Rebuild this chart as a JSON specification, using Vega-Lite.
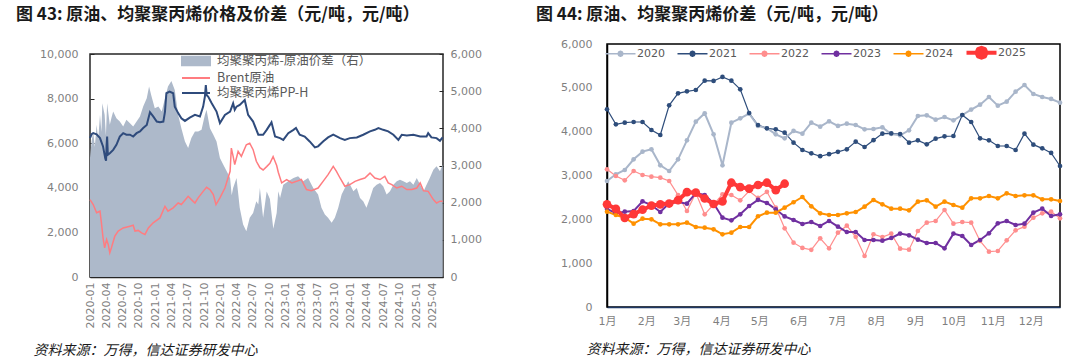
{
"$schema": "https://vega.github.io/schema/vega-lite/v6.json",
"background": "white",
"padding": {"left": 16, "top": 5, "right": 0, "bottom": 0},
"spacing": 52,
"config": {
  "font": "DejaVu Sans, Noto Sans CJK SC",
  "axis": {"labelFont": "DejaVu Sans, Noto Sans CJK SC", "labelFontSize": 11, "labelColor": "#7f7f7f", "grid": false, "ticks": false, "domain": false},
  "legend": {"labelFont": "DejaVu Sans, Noto Sans CJK SC", "labelColor": "#595959"}
},
"resolve": {"scale": {"color": "independent"}, "legend": {"color": "independent"}},
"datasets": {
  "spread": [
    {"d":"2020-01-01","v":3200},{"d":"2020-01-10","v":3650},{"d":"2020-01-19","v":3916},{"d":"2020-01-28","v":3500},{"d":"2020-02-07","v":4094},{"d":"2020-02-16","v":3700},{"d":"2020-02-26","v":4363},{"d":"2020-03-05","v":3900},{"d":"2020-03-10","v":4676},{"d":"2020-03-23","v":4363},{"d":"2020-03-30","v":3800},{"d":"2020-04-06","v":4676},{"d":"2020-04-21","v":4094},{"d":"2020-05-01","v":4300},{"d":"2020-05-10","v":4452},{"d":"2020-05-28","v":4273},{"d":"2020-06-16","v":4184},{"d":"2020-07-05","v":4050},{"d":"2020-07-23","v":4229},{"d":"2020-08-12","v":4139},{"d":"2020-08-30","v":4050},{"d":"2020-09-18","v":4184},{"d":"2020-10-07","v":4318},{"d":"2020-10-25","v":4586},{"d":"2020-11-14","v":4810},{"d":"2020-11-27","v":5123},{"d":"2020-12-11","v":4854},{"d":"2020-12-29","v":4542},
    {"d":"2021-01-18","v":4586},{"d":"2021-02-06","v":4452},{"d":"2021-02-24","v":4810},{"d":"2021-03-13","v":5123},{"d":"2021-04-01","v":5275},{"d":"2021-04-20","v":5033},{"d":"2021-05-09","v":4363},{"d":"2021-05-27","v":4005},{"d":"2021-06-16","v":3648},{"d":"2021-07-04","v":3469},{"d":"2021-07-22","v":3737},{"d":"2021-08-11","v":3916},{"d":"2021-08-29","v":3916},{"d":"2021-09-17","v":3960},{"d":"2021-10-06","v":4363},{"d":"2021-10-15","v":4497},{"d":"2021-11-03","v":4005},{"d":"2021-11-22","v":3826},{"d":"2021-12-10","v":3648},{"d":"2021-12-29","v":3200},
    {"d":"2022-01-17","v":3022},{"d":"2022-02-05","v":2843},{"d":"2022-02-24","v":2664},{"d":"2022-03-05","v":2200},{"d":"2022-03-13","v":2396},{"d":"2022-04-01","v":2664},{"d":"2022-04-19","v":1860},{"d":"2022-05-08","v":1413},{"d":"2022-05-26","v":1234},{"d":"2022-06-14","v":1591},{"d":"2022-07-03","v":1725},{"d":"2022-07-21","v":2038},{"d":"2022-08-01","v":1949},{"d":"2022-08-10","v":2396},{"d":"2022-08-28","v":1591},{"d":"2022-09-17","v":2300},{"d":"2022-10-05","v":2100},{"d":"2022-10-24","v":1300},{"d":"2022-11-12","v":1720},{"d":"2022-11-21","v":2307},{"d":"2022-12-01","v":2128},{"d":"2022-12-19","v":2485},
    {"d":"2023-01-16","v":2575},{"d":"2023-02-14","v":2664},{"d":"2023-03-12","v":2709},{"d":"2023-04-09","v":2575},{"d":"2023-05-07","v":2664},{"d":"2023-06-05","v":2396},{"d":"2023-07-02","v":2217},{"d":"2023-07-21","v":1860},{"d":"2023-08-09","v":1681},{"d":"2023-08-27","v":1591},{"d":"2023-09-16","v":1457},{"d":"2023-10-04","v":1591},{"d":"2023-10-23","v":1860},{"d":"2023-11-11","v":2217},{"d":"2023-11-29","v":2396},{"d":"2023-12-18","v":2575},
    {"d":"2024-01-16","v":2307},{"d":"2024-02-04","v":2396},{"d":"2024-02-22","v":2128},{"d":"2024-03-11","v":2038},{"d":"2024-03-29","v":1860},{"d":"2024-04-18","v":2128},{"d":"2024-05-06","v":2396},{"d":"2024-05-25","v":2485},{"d":"2024-06-13","v":2530},{"d":"2024-07-01","v":2441},{"d":"2024-07-20","v":2217},{"d":"2024-08-08","v":2307},{"d":"2024-08-27","v":2485},{"d":"2024-09-15","v":2575},{"d":"2024-10-03","v":2619},{"d":"2024-10-22","v":2575},{"d":"2024-11-10","v":2530},{"d":"2024-11-28","v":2575},{"d":"2024-12-17","v":2485},
    {"d":"2025-01-05","v":2664},{"d":"2025-01-24","v":2485},{"d":"2025-02-12","v":2307},{"d":"2025-03-01","v":2485},{"d":"2025-03-19","v":2664},{"d":"2025-04-08","v":2888},{"d":"2025-04-26","v":2977},{"d":"2025-05-15","v":2843},{"d":"2025-05-30","v":3022}
  ],
  "brent": [
    {"d":"2020-01-01","v":3470},{"d":"2020-01-19","v":3250},{"d":"2020-02-07","v":2880},{"d":"2020-02-26","v":2950},{"d":"2020-03-05","v":2430},{"d":"2020-03-14","v":1760},{"d":"2020-03-23","v":1310},{"d":"2020-04-03","v":1680},{"d":"2020-04-12","v":1460},{"d":"2020-04-21","v":1090},{"d":"2020-04-30","v":1310},{"d":"2020-05-19","v":1830},{"d":"2020-06-07","v":2060},{"d":"2020-07-05","v":2200},{"d":"2020-08-12","v":2280},{"d":"2020-08-30","v":2320},{"d":"2020-09-09","v":2060},{"d":"2020-09-27","v":2090},{"d":"2020-10-16","v":1980},{"d":"2020-11-04","v":1910},{"d":"2020-11-23","v":2200},{"d":"2020-12-20","v":2430},
    {"d":"2021-01-27","v":2650},{"d":"2021-02-24","v":3170},{"d":"2021-03-13","v":2950},{"d":"2021-04-11","v":3100},{"d":"2021-05-09","v":3320},{"d":"2021-05-27","v":3250},{"d":"2021-07-04","v":3620},{"d":"2021-07-22","v":3470},{"d":"2021-08-11","v":3320},{"d":"2021-08-29","v":3550},{"d":"2021-09-26","v":3840},{"d":"2021-10-15","v":4020},{"d":"2021-11-03","v":3920},{"d":"2021-11-22","v":3700},{"d":"2021-12-07","v":3250},{"d":"2021-12-29","v":3550},
    {"d":"2022-01-26","v":3990},{"d":"2022-02-24","v":4740},{"d":"2022-03-03","v":5780},{"d":"2022-03-13","v":5410},{"d":"2022-03-22","v":5040},{"d":"2022-04-10","v":5630},{"d":"2022-04-28","v":5410},{"d":"2022-05-26","v":5930},{"d":"2022-06-14","v":6000},{"d":"2022-07-03","v":5710},{"d":"2022-07-21","v":5190},{"d":"2022-08-10","v":4900},{"d":"2022-08-28","v":4800},{"d":"2022-09-17","v":4950},{"d":"2022-10-05","v":5100},{"d":"2022-10-23","v":5400},{"d":"2022-11-12","v":5000},{"d":"2022-11-21","v":4700},{"d":"2022-12-10","v":4220},
    {"d":"2023-01-07","v":4370},{"d":"2023-02-05","v":4220},{"d":"2023-03-03","v":4290},{"d":"2023-03-30","v":4370},{"d":"2023-04-28","v":3920},{"d":"2023-05-25","v":3870},{"d":"2023-07-02","v":3990},{"d":"2023-07-30","v":4290},{"d":"2023-08-27","v":4590},{"d":"2023-09-25","v":4960},{"d":"2023-10-13","v":4740},{"d":"2023-11-02","v":4440},{"d":"2023-11-29","v":4070},{"d":"2023-12-27","v":4140},
    {"d":"2024-01-25","v":4290},{"d":"2024-02-22","v":4370},{"d":"2024-03-20","v":4440},{"d":"2024-04-18","v":4660},{"d":"2024-05-15","v":4440},{"d":"2024-06-13","v":4370},{"d":"2024-07-10","v":4510},{"d":"2024-07-29","v":4220},{"d":"2024-08-18","v":4140},{"d":"2024-09-15","v":3990},{"d":"2024-10-13","v":4070},{"d":"2024-11-10","v":3920},{"d":"2024-12-08","v":3920},
    {"d":"2025-01-05","v":3990},{"d":"2025-01-24","v":4220},{"d":"2025-02-12","v":3870},{"d":"2025-03-10","v":3840},{"d":"2025-04-08","v":3470},{"d":"2025-04-26","v":3320},{"d":"2025-05-15","v":3400},{"d":"2025-05-30","v":3400}
  ],
  "pp": [
    {"d":"2020-01-01","v":6228},{"d":"2020-01-10","v":6400},{"d":"2020-01-19","v":6450},{"d":"2020-02-07","v":6400},{"d":"2020-02-26","v":6228},{"d":"2020-03-14","v":5856},{"d":"2020-03-27","v":5300},{"d":"2020-03-31","v":5215},{"d":"2020-04-03","v":5900},{"d":"2020-04-06","v":6300},{"d":"2020-04-10","v":5480},{"d":"2020-04-21","v":5550},{"d":"2020-05-10","v":5700},{"d":"2020-05-28","v":5930},{"d":"2020-06-16","v":6300},{"d":"2020-07-05","v":6450},{"d":"2020-07-23","v":6380},{"d":"2020-08-12","v":6380},{"d":"2020-08-30","v":6300},{"d":"2020-09-18","v":6450},{"d":"2020-10-07","v":6530},{"d":"2020-10-25","v":6680},{"d":"2020-11-14","v":6820},{"d":"2020-12-02","v":7390},{"d":"2020-12-20","v":7200},
    {"d":"2021-01-09","v":6970},{"d":"2021-01-27","v":6940},{"d":"2021-02-15","v":6970},{"d":"2021-02-24","v":7400},{"d":"2021-03-04","v":8240},{"d":"2021-03-22","v":8310},{"d":"2021-04-11","v":8240},{"d":"2021-04-20","v":7640},{"d":"2021-05-09","v":7350},{"d":"2021-05-27","v":7120},{"d":"2021-06-16","v":7000},{"d":"2021-07-13","v":7150},{"d":"2021-08-11","v":7270},{"d":"2021-09-08","v":7200},{"d":"2021-09-26","v":7640},{"d":"2021-10-06","v":8100},{"d":"2021-10-11","v":8610},{"d":"2021-10-16","v":8150},{"d":"2021-10-24","v":8090},{"d":"2021-11-13","v":7790},{"d":"2021-12-10","v":7420},{"d":"2021-12-29","v":6900},
    {"d":"2022-01-26","v":7270},{"d":"2022-02-24","v":7420},{"d":"2022-03-13","v":7790},{"d":"2022-03-22","v":7500},{"d":"2022-04-01","v":7640},{"d":"2022-04-19","v":7720},{"d":"2022-05-17","v":7940},{"d":"2022-06-05","v":7270},{"d":"2022-07-03","v":6970},{"d":"2022-08-01","v":6380},{"d":"2022-08-28","v":6380},{"d":"2022-09-17","v":6600},{"d":"2022-10-05","v":6820},{"d":"2022-10-14","v":6940},{"d":"2022-11-03","v":6300},{"d":"2022-12-01","v":6228},{"d":"2022-12-19","v":6150},
    {"d":"2023-01-16","v":6450},{"d":"2023-02-14","v":6600},{"d":"2023-02-28","v":6680},{"d":"2023-03-21","v":6380},{"d":"2023-04-18","v":6300},{"d":"2023-05-16","v":6080},{"d":"2023-06-14","v":5810},{"d":"2023-07-02","v":5860},{"d":"2023-07-30","v":6080},{"d":"2023-08-27","v":6260},{"d":"2023-09-25","v":6380},{"d":"2023-11-02","v":6228},{"d":"2023-11-29","v":6150},{"d":"2023-12-27","v":6228},
    {"d":"2024-02-04","v":6260},{"d":"2024-03-11","v":6380},{"d":"2024-04-18","v":6530},{"d":"2024-05-15","v":6600},{"d":"2024-06-04","v":6680},{"d":"2024-07-01","v":6600},{"d":"2024-07-29","v":6530},{"d":"2024-08-27","v":6380},{"d":"2024-09-24","v":6150},{"d":"2024-10-13","v":6380},{"d":"2024-11-10","v":6350},{"d":"2024-12-17","v":6380},
    {"d":"2025-01-24","v":6300},{"d":"2025-03-01","v":6300},{"d":"2025-03-10","v":6450},{"d":"2025-03-28","v":6260},{"d":"2025-04-26","v":6228},{"d":"2025-05-15","v":6110},{"d":"2025-05-30","v":6260}
  ],
  "weekly": [
    {"yr":"2020","w":1,"v":2875},{"yr":"2020","w":2,"v":3027},{"yr":"2020","w":3,"v":3126},{"yr":"2020","w":4,"v":3369},{"yr":"2020","w":5,"v":3544},{"yr":"2020","w":6,"v":3598},{"yr":"2020","w":7,"v":3233},{"yr":"2020","w":8,"v":3103},{"yr":"2020","w":9,"v":3369},{"yr":"2020","w":10,"v":3802},{"yr":"2020","w":11,"v":4228},{"yr":"2020","w":12,"v":4419},{"yr":"2020","w":13,"v":3940},{"yr":"2020","w":14,"v":3233},{"yr":"2020","w":15,"v":4205},{"yr":"2020","w":16,"v":4305},{"yr":"2020","w":17,"v":4411},{"yr":"2020","w":18,"v":4130},{"yr":"2020","w":19,"v":4077},{"yr":"2020","w":20,"v":3940},{"yr":"2020","w":21,"v":3848},{"yr":"2020","w":22,"v":4016},{"yr":"2020","w":23,"v":3955},{"yr":"2020","w":24,"v":4205},{"yr":"2020","w":25,"v":4115},{"yr":"2020","w":26,"v":4236},{"yr":"2020","w":27,"v":4130},{"yr":"2020","w":28,"v":4183},{"yr":"2020","w":29,"v":4152},{"yr":"2020","w":30,"v":4054},{"yr":"2020","w":31,"v":4061},{"yr":"2020","w":32,"v":4099},{"yr":"2020","w":33,"v":3947},{"yr":"2020","w":34,"v":3917},{"yr":"2020","w":35,"v":4031},{"yr":"2020","w":36,"v":4358},{"yr":"2020","w":37,"v":4373},{"yr":"2020","w":38,"v":4274},{"yr":"2020","w":39,"v":4335},{"yr":"2020","w":40,"v":4259},{"yr":"2020","w":41,"v":4380},{"yr":"2020","w":42,"v":4503},{"yr":"2020","w":43,"v":4616},{"yr":"2020","w":44,"v":4791},{"yr":"2020","w":45,"v":4593},{"yr":"2020","w":46,"v":4685},{"yr":"2020","w":47,"v":4913},{"yr":"2020","w":48,"v":5065},{"yr":"2020","w":49,"v":4860},{"yr":"2020","w":50,"v":4791},{"yr":"2020","w":51,"v":4746},{"yr":"2020","w":52,"v":4661},
    {"yr":"2021","w":1,"v":4511},{"yr":"2021","w":2,"v":4168},{"yr":"2021","w":3,"v":4205},{"yr":"2021","w":4,"v":4221},{"yr":"2021","w":5,"v":4221},{"yr":"2021","w":6,"v":4038},{"yr":"2021","w":7,"v":3924},{"yr":"2021","w":8,"v":4601},{"yr":"2021","w":9,"v":4875},{"yr":"2021","w":10,"v":4920},{"yr":"2021","w":11,"v":4951},{"yr":"2021","w":12,"v":5164},{"yr":"2021","w":13,"v":5157},{"yr":"2021","w":14,"v":5248},{"yr":"2021","w":15,"v":5164},{"yr":"2021","w":16,"v":4966},{"yr":"2021","w":17,"v":4426},{"yr":"2021","w":18,"v":4152},{"yr":"2021","w":19,"v":4077},{"yr":"2021","w":20,"v":4054},{"yr":"2021","w":21,"v":3977},{"yr":"2021","w":22,"v":3749},{"yr":"2021","w":23,"v":3582},{"yr":"2021","w":24,"v":3506},{"yr":"2021","w":25,"v":3440},{"yr":"2021","w":26,"v":3487},{"yr":"2021","w":27,"v":3540},{"yr":"2021","w":28,"v":3598},{"yr":"2021","w":29,"v":3772},{"yr":"2021","w":30,"v":3650},{"yr":"2021","w":31,"v":3806},{"yr":"2021","w":32,"v":3955},{"yr":"2021","w":33,"v":3962},{"yr":"2021","w":34,"v":3947},{"yr":"2021","w":35,"v":3749},{"yr":"2021","w":36,"v":3802},{"yr":"2021","w":37,"v":3711},{"yr":"2021","w":38,"v":3840},{"yr":"2021","w":39,"v":3894},{"yr":"2021","w":40,"v":3901},{"yr":"2021","w":41,"v":4380},{"yr":"2021","w":42,"v":4221},{"yr":"2021","w":43,"v":3848},{"yr":"2021","w":44,"v":3802},{"yr":"2021","w":45,"v":3673},{"yr":"2021","w":46,"v":3673},{"yr":"2021","w":47,"v":3582},{"yr":"2021","w":48,"v":3955},{"yr":"2021","w":49,"v":3704},{"yr":"2021","w":50,"v":3620},{"yr":"2021","w":51,"v":3514},{"yr":"2021","w":52,"v":3217},
    {"yr":"2022","w":1,"v":3141},{"yr":"2022","w":2,"v":2989},{"yr":"2022","w":3,"v":2890},{"yr":"2022","w":4,"v":3103},{"yr":"2022","w":5,"v":3012},{"yr":"2022","w":6,"v":2974},{"yr":"2022","w":7,"v":2951},{"yr":"2022","w":8,"v":2875},{"yr":"2022","w":9,"v":2552},{"yr":"2022","w":10,"v":2190},{"yr":"2022","w":11,"v":2600},{"yr":"2022","w":12,"v":2114},{"yr":"2022","w":13,"v":2342},{"yr":"2022","w":14,"v":2571},{"yr":"2022","w":15,"v":2555},{"yr":"2022","w":16,"v":2434},{"yr":"2022","w":17,"v":2647},{"yr":"2022","w":18,"v":2488},{"yr":"2022","w":19,"v":2628},{"yr":"2022","w":20,"v":2266},{"yr":"2022","w":21,"v":1795},{"yr":"2022","w":22,"v":1468},{"yr":"2022","w":23,"v":1347},{"yr":"2022","w":24,"v":1304},{"yr":"2022","w":25,"v":1567},{"yr":"2022","w":26,"v":1339},{"yr":"2022","w":27,"v":1696},{"yr":"2022","w":28,"v":1855},{"yr":"2022","w":29,"v":1600},{"yr":"2022","w":30,"v":1164},{"yr":"2022","w":31,"v":1660},{"yr":"2022","w":32,"v":1597},{"yr":"2022","w":33,"v":1674},{"yr":"2022","w":34,"v":1331},{"yr":"2022","w":35,"v":1308},{"yr":"2022","w":36,"v":1734},{"yr":"2022","w":37,"v":1924},{"yr":"2022","w":38,"v":1962},{"yr":"2022","w":39,"v":2213},{"yr":"2022","w":40,"v":1901},{"yr":"2022","w":41,"v":1939},{"yr":"2022","w":42,"v":1924},{"yr":"2022","w":43,"v":1506},{"yr":"2022","w":44,"v":1263},{"yr":"2022","w":45,"v":1278},{"yr":"2022","w":46,"v":1521},{"yr":"2022","w":47,"v":1749},{"yr":"2022","w":48,"v":1833},{"yr":"2022","w":49,"v":2038},{"yr":"2022","w":50,"v":2137},{"yr":"2022","w":51,"v":2175},{"yr":"2022","w":52,"v":2023},
    {"yr":"2023","w":1,"v":2237},{"yr":"2023","w":2,"v":2137},{"yr":"2023","w":3,"v":2175},{"yr":"2023","w":4,"v":2190},{"yr":"2023","w":5,"v":2410},{"yr":"2023","w":6,"v":2327},{"yr":"2023","w":7,"v":2167},{"yr":"2023","w":8,"v":2366},{"yr":"2023","w":9,"v":2396},{"yr":"2023","w":10,"v":2358},{"yr":"2023","w":11,"v":2600},{"yr":"2023","w":12,"v":2555},{"yr":"2023","w":13,"v":2366},{"yr":"2023","w":14,"v":2038},{"yr":"2023","w":15,"v":1977},{"yr":"2023","w":16,"v":2114},{"yr":"2023","w":17,"v":2304},{"yr":"2023","w":18,"v":2445},{"yr":"2023","w":19,"v":2373},{"yr":"2023","w":20,"v":2229},{"yr":"2023","w":21,"v":2066},{"yr":"2023","w":22,"v":1985},{"yr":"2023","w":23,"v":1893},{"yr":"2023","w":24,"v":1939},{"yr":"2023","w":25,"v":1848},{"yr":"2023","w":26,"v":1962},{"yr":"2023","w":27,"v":1833},{"yr":"2023","w":28,"v":1711},{"yr":"2023","w":29,"v":1711},{"yr":"2023","w":30,"v":1529},{"yr":"2023","w":31,"v":1529},{"yr":"2023","w":32,"v":1513},{"yr":"2023","w":33,"v":1574},{"yr":"2023","w":34,"v":1674},{"yr":"2023","w":35,"v":1636},{"yr":"2023","w":36,"v":1536},{"yr":"2023","w":37,"v":1460},{"yr":"2023","w":38,"v":1460},{"yr":"2023","w":39,"v":1339},{"yr":"2023","w":40,"v":1674},{"yr":"2023","w":41,"v":1620},{"yr":"2023","w":42,"v":1415},{"yr":"2023","w":43,"v":1529},{"yr":"2023","w":44,"v":1681},{"yr":"2023","w":45,"v":1909},{"yr":"2023","w":46,"v":1962},{"yr":"2023","w":47,"v":1871},{"yr":"2023","w":48,"v":1901},{"yr":"2023","w":49,"v":2152},{"yr":"2023","w":50,"v":2244},{"yr":"2023","w":51,"v":2076},{"yr":"2023","w":52,"v":2114},
    {"yr":"2024","w":1,"v":2175},{"yr":"2024","w":2,"v":2099},{"yr":"2024","w":3,"v":2038},{"yr":"2024","w":4,"v":1901},{"yr":"2024","w":5,"v":2015},{"yr":"2024","w":6,"v":2000},{"yr":"2024","w":7,"v":1886},{"yr":"2024","w":8,"v":1886},{"yr":"2024","w":9,"v":1886},{"yr":"2024","w":10,"v":1924},{"yr":"2024","w":11,"v":1825},{"yr":"2024","w":12,"v":1810},{"yr":"2024","w":13,"v":1772},{"yr":"2024","w":14,"v":1658},{"yr":"2024","w":15,"v":1696},{"yr":"2024","w":16,"v":1825},{"yr":"2024","w":17,"v":1825},{"yr":"2024","w":18,"v":2070},{"yr":"2024","w":19,"v":2152},{"yr":"2024","w":20,"v":2152},{"yr":"2024","w":21,"v":2266},{"yr":"2024","w":22,"v":2390},{"yr":"2024","w":23,"v":2510},{"yr":"2024","w":24,"v":2297},{"yr":"2024","w":25,"v":2137},{"yr":"2024","w":26,"v":2099},{"yr":"2024","w":27,"v":2099},{"yr":"2024","w":28,"v":2137},{"yr":"2024","w":29,"v":2167},{"yr":"2024","w":30,"v":2289},{"yr":"2024","w":31,"v":2441},{"yr":"2024","w":32,"v":2342},{"yr":"2024","w":33,"v":2244},{"yr":"2024","w":34,"v":2244},{"yr":"2024","w":35,"v":2206},{"yr":"2024","w":36,"v":2403},{"yr":"2024","w":37,"v":2434},{"yr":"2024","w":38,"v":2289},{"yr":"2024","w":39,"v":2403},{"yr":"2024","w":40,"v":2327},{"yr":"2024","w":41,"v":2266},{"yr":"2024","w":42,"v":2480},{"yr":"2024","w":43,"v":2480},{"yr":"2024","w":44,"v":2533},{"yr":"2024","w":45,"v":2480},{"yr":"2024","w":46,"v":2593},{"yr":"2024","w":47,"v":2533},{"yr":"2024","w":48,"v":2548},{"yr":"2024","w":49,"v":2548},{"yr":"2024","w":50,"v":2457},{"yr":"2024","w":51,"v":2457},{"yr":"2024","w":52,"v":2418},
    {"yr":"2025","w":1,"v":2342},{"yr":"2025","w":2,"v":2240},{"yr":"2025","w":3,"v":2030},{"yr":"2025","w":4,"v":2120},{"yr":"2025","w":5,"v":2220},{"yr":"2025","w":6,"v":2312},{"yr":"2025","w":7,"v":2342},{"yr":"2025","w":8,"v":2360},{"yr":"2025","w":9,"v":2437},{"yr":"2025","w":10,"v":2620},{"yr":"2025","w":11,"v":2608},{"yr":"2025","w":12,"v":2476},{"yr":"2025","w":13,"v":2350},{"yr":"2025","w":14,"v":2410},{"yr":"2025","w":15,"v":2836},{"yr":"2025","w":16,"v":2734},{"yr":"2025","w":17,"v":2700},{"yr":"2025","w":18,"v":2783},{"yr":"2025","w":19,"v":2836},{"yr":"2025","w":20,"v":2666},{"yr":"2025","w":21,"v":2813}
  ]
},
"hconcat": [
  {
    "spacing": 2,
    "vconcat": [
      {
        "width": 353, "height": 1,
        "data": {"values": []},
        "mark": {"type": "point"},
        "encoding": {},
        "view": {"stroke": null},
        "title": {"text": "图 43: 原油、均聚聚丙烯价格及价差（元/吨，元/吨）", "anchor": "start", "frame": "group", "dx": -74, "offset": 20, "font": "Noto Sans CJK SC", "fontSize": 17, "fontWeight": "bold", "color": "#1a1a1a"}
      },
      {
        "width": 353, "height": 223,
        "view": {"stroke": "#262626", "strokeWidth": 1.5},
        "layer": [
          {
            "data": {"name": "spread"},
            "mark": {"type": "area", "interpolate": "linear"},
            "encoding": {
              "x": {"field": "d", "type": "temporal",
                    "scale": {"type": "utc", "domain": [{"year": 2020, "month": 1, "date": 1, "utc": true}, {"year": 2025, "month": 6, "date": 1, "utc": true}]},
                    "axis": {"format": "%Y-%m", "tickCount": {"interval": "month", "step": 3}, "labelAngle": -90, "labelPadding": 9, "labelOverlap": false, "labelFlush": false, "labelBound": false, "ticks": true, "tickSize": -4, "tickColor": "#262626", "domain": true, "domainColor": "#262626", "domainWidth": 1.5,
                             "title": "资料来源：万得，信达证券研发中心", "titleFont": "Noto Sans CJK SC", "titleFontStyle": "italic", "titleFontWeight": "normal", "titleFontSize": 14, "titleColor": "#1a1a1a", "titleAlign": "left", "titleBaseline": "middle", "titleX": -57, "titleY": 73}},
              "y": {"field": "v", "type": "quantitative", "scale": {"domain": [0, 6000], "nice": false},
                    "axis": {"orient": "right", "values": [0, 1000, 2000, 3000, 4000, 5000, 6000], "format": ",d", "ticks": true, "tickSize": -4, "tickColor": "#262626", "labelPadding": 11, "title": null}},
              "color": {"datum": "均聚聚丙烯-原油价差（右）",
                        "scale": {"domain": ["均聚聚丙烯-原油价差（右）", "Brent原油", "均聚聚丙烯PP-H"], "range": ["#ADB9CA", "#FF7C80", "#2F4B7C"]},
                        "legend": {"orient": "none", "legendX": 98, "legendY": 9, "direction": "vertical", "title": null, "symbolSize": 196, "symbolStrokeWidth": 2, "labelFont": "Noto Sans CJK SC", "labelFontSize": 12.5, "labelColor": "#595959", "labelOffset": 13, "rowPadding": -2.5,
                                   "encode": {"symbols": {"update": {
                                     "shape": {"signal": "datum.value === '均聚聚丙烯-原油价差（右）' ? 'M-2,-0.6H2V0.6H-2Z' : 'M-2,0H2'"},
                                     "fill": {"signal": "datum.value === '均聚聚丙烯-原油价差（右）' ? '#ADB9CA' : 'transparent'"},
                                     "stroke": {"signal": "datum.value === '均聚聚丙烯-原油价差（右）' ? 'transparent' : scale('color', datum.value)"},
                                     "strokeWidth": {"value": 2}, "opacity": {"value": 1}}}}}}
            }
          },
          {
            "layer": [
              {
                "data": {"name": "brent"},
                "mark": {"type": "line", "strokeWidth": 1.5},
                "encoding": {
                  "x": {"field": "d", "type": "temporal"},
                  "y": {"field": "v", "type": "quantitative", "scale": {"domain": [0, 10000], "nice": false},
                        "axis": {"orient": "left", "values": [0, 2000, 4000, 6000, 8000, 10000], "format": ",d", "ticks": true, "tickSize": -4, "tickColor": "#262626", "labelPadding": 16, "title": null}},
                  "color": {"datum": "Brent原油"}
                }
              },
              {
                "data": {"name": "pp"},
                "mark": {"type": "line", "strokeWidth": 2},
                "encoding": {
                  "x": {"field": "d", "type": "temporal"},
                  "y": {"field": "v", "type": "quantitative"},
                  "color": {"datum": "均聚聚丙烯PP-H"}
                }
              }
            ]
          }
        ],
        "resolve": {"scale": {"y": "independent"}}
      }
    ]
  },
  {
    "width": 453, "height": 263,
    "title": {"text": "图 44: 原油、均聚聚丙烯价差（元/吨，元/吨）", "anchor": "start", "frame": "group", "dx": -71, "offset": 14, "font": "Noto Sans CJK SC", "fontSize": 17, "fontWeight": "bold", "color": "#1a1a1a"},
    "view": {"stroke": "#000000", "strokeWidth": 1.5},
    "data": {"name": "weekly"},
    "encoding": {
      "x": {"field": "w", "type": "quantitative", "scale": {"domain": [1, 52], "nice": false, "zero": false},
            "axis": {"values": [1, 5.4286, 9.4286, 13.857, 18.143, 22.571, 26.857, 31.286, 35.714, 40, 44.429, 48.714], "labelExpr": "round((datum.value-1)/4.345)+1 + '月'", "labelPadding": 8, "labelFlush": false, "domain": true, "domainColor": "#1F3864", "domainWidth": 1.5,
                     "title": "资料来源：万得，信达证券研发中心", "titleFont": "Noto Sans CJK SC", "titleFontStyle": "italic", "titleFontWeight": "normal", "titleFontSize": 14, "titleColor": "#1a1a1a", "titleAlign": "left", "titleBaseline": "middle", "titleX": -21, "titleY": 42}},
      "y": {"field": "v", "type": "quantitative", "scale": {"domain": [0, 6000], "nice": false},
            "axis": {"values": [0, 1000, 2000, 3000, 4000, 5000, 6000], "format": ",d", "domain": true, "domainColor": "#000000", "domainWidth": 1.5, "labelPadding": 15, "title": null}},
      "color": {"field": "yr", "type": "nominal",
                "scale": {"domain": ["2020", "2021", "2022", "2023", "2024", "2025"], "range": ["#A9B6CA", "#2E4D7B", "#FF8E8E", "#7030A0", "#FF9100", "#FF3838"]},
                "legend": {"orient": "none", "legendX": 8, "legendY": 3, "direction": "horizontal", "title": null, "symbolSize": 100, "symbolStrokeWidth": 1.5, "labelFontSize": 11, "labelColor": "#595959", "labelOffset": 11, "columnPadding": 11,
                           "encode": {"symbols": {"update": {
                             "shape": {"signal": "datum.value === '2025' ? 'M-3,0H3M1,0L0.707,0.707L0,1L-0.707,0.707L-1,0L-0.707,-0.707L0,-1L0.707,-0.707Z' : 'M-3,0H3M0.5,0L0.354,0.354L0,0.5L-0.354,0.354L-0.5,0L-0.354,-0.354L0,-0.5L0.354,-0.354Z'"},
                             "fill": {"signal": "scale('color', datum.value)"},
                             "stroke": {"signal": "scale('color', datum.value)"},
                             "strokeWidth": {"signal": "datum.value === '2025' ? 4 : 1.5"},
                             "strokeJoin": {"value": "round"},
                             "size": {"value": 100},
                             "opacity": {"value": 1}}}}}}
    },
    "layer": [
      {"transform": [{"filter": {"field": "yr", "oneOf": ["2021", "2022"]}}], "mark": {"type": "line", "strokeWidth": 1.2}},
      {"transform": [{"filter": {"field": "yr", "oneOf": ["2020", "2023", "2024"]}}], "mark": {"type": "line", "strokeWidth": 2}},
      {"transform": [{"filter": {"field": "yr", "oneOf": ["2020", "2021", "2022", "2023", "2024"]}}], "mark": {"type": "point", "filled": true, "opacity": 1, "size": 22}},
      {"transform": [{"filter": {"field": "yr", "equal": "2025"}}], "mark": {"type": "line", "strokeWidth": 4}},
      {"transform": [{"filter": {"field": "yr", "equal": "2025"}}], "mark": {"type": "point", "filled": true, "opacity": 1, "size": 75}}
    ]
  }
]
}
